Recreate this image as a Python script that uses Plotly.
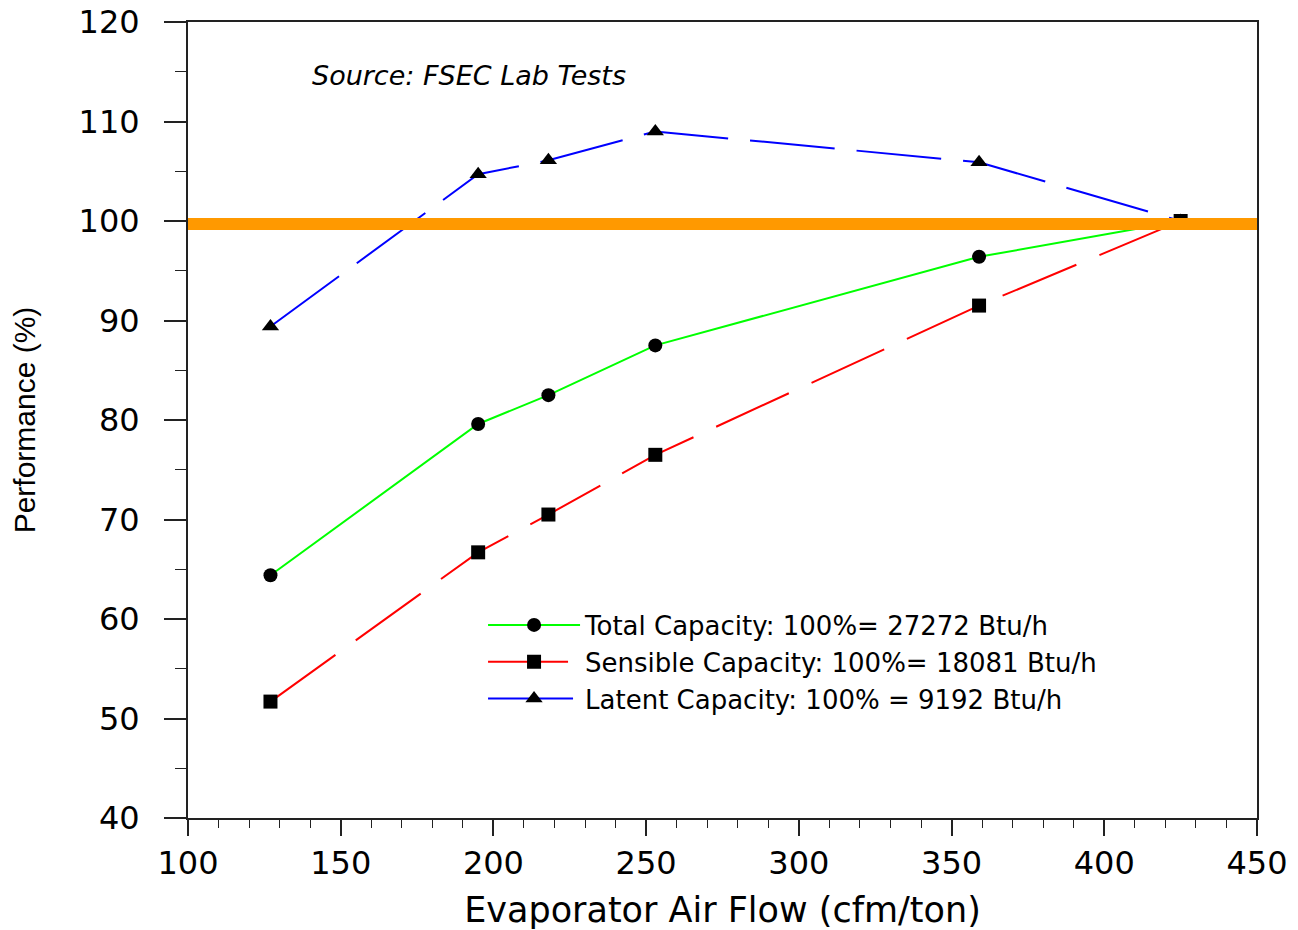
import plotly.graph_objects as go

# Data
air_flow = [127, 195, 218, 253, 359, 425]
total_capacity = [64.4, 79.6, 82.5, 87.5, 96.4, 100.0]
sensible_capacity = [51.7, 66.7, 70.5, 76.5, 91.5, 100.0]
latent_capacity = [89.4, 104.7, 106.1, 109.0, 105.9, 100.0]

ref_x = [100, 450]
ref_y = [99.7, 99.7]

labels = [
    "Total Capacity: 100%= 27272 Btu/h",
    "Sensible Capacity: 100%= 18081 Btu/h",
    "Latent Capacity: 100% = 9192 Btu/h",
]

fig = go.Figure()

fig.add_trace(go.Scatter(
    x=air_flow, y=total_capacity, name=labels[0], mode="lines+markers",
    line=dict(color="#00FF00", width=2),
    marker=dict(symbol="circle", size=14, color="black"),
))
fig.add_trace(go.Scatter(
    x=air_flow, y=sensible_capacity, name=labels[1], mode="lines+markers",
    line=dict(color="#FF0000", width=2, dash="80px,25px"),
    marker=dict(symbol="square", size=14, color="black"),
))
fig.add_trace(go.Scatter(
    x=air_flow, y=latent_capacity, name=labels[2], mode="lines+markers",
    line=dict(color="#0000FF", width=2, dash="85px,22px"),
    marker=dict(symbol="triangle-up", size=15, color="black"),
))
fig.add_trace(go.Scatter(
    x=ref_x, y=ref_y, mode="lines", showlegend=False,
    line=dict(color="#FF9900", width=12), hoverinfo="skip",
))

fig.add_annotation(
    x=0.114, y=0.933, xref="paper", yref="paper", xanchor="left", yanchor="middle",
    text="<i>Source: FSEC Lab Tests</i>", showarrow=False,
    font=dict(family="DejaVu Sans", size=27, color="black"),
)

fig.update_layout(
    width=1298, height=930,
    margin=dict(l=188, r=41, t=22, b=112),
    paper_bgcolor="white", plot_bgcolor="white",
    font=dict(family="DejaVu Sans", color="black"),
    showlegend=True,
    legend=dict(
        x=0.276, y=0.272, xanchor="left", yanchor="top",
        bgcolor="rgba(0,0,0,0)", font=dict(size=26, color="black"),
        itemwidth=92, tracegroupgap=0,
    ),
)

fig.update_xaxes(
    range=[100, 450], dtick=50, tick0=100, automargin=False,
    showgrid=False, zeroline=False,
    showline=True, linecolor="#222222", linewidth=2, mirror=True,
    ticks="outside", ticklen=16, tickwidth=1.5, tickcolor="#222222",
    ticklabelstandoff=0,
    minor=dict(dtick=10, ticks="outside", ticklen=8, tickwidth=1.2, tickcolor="#222222", showgrid=False),
    tickfont=dict(size=32),
    title=dict(text="Evaporator Air Flow (cfm/ton)", font=dict(size=35), standoff=26),
)
fig.update_yaxes(
    range=[40, 120], dtick=10, tick0=40, automargin=False,
    showgrid=False, zeroline=False,
    showline=True, linecolor="#222222", linewidth=2, mirror=True,
    ticks="outside", ticklen=22, tickwidth=1.5, tickcolor="#222222",
    ticklabelstandoff=18,
    minor=dict(dtick=5, ticks="outside", ticklen=11, tickwidth=1.2, tickcolor="#222222", showgrid=False),
    tickfont=dict(size=32),
    title=dict(text="Performance (%)", font=dict(size=30, family="Liberation Sans"), standoff=34),
)

fig.write_html("out.html")
